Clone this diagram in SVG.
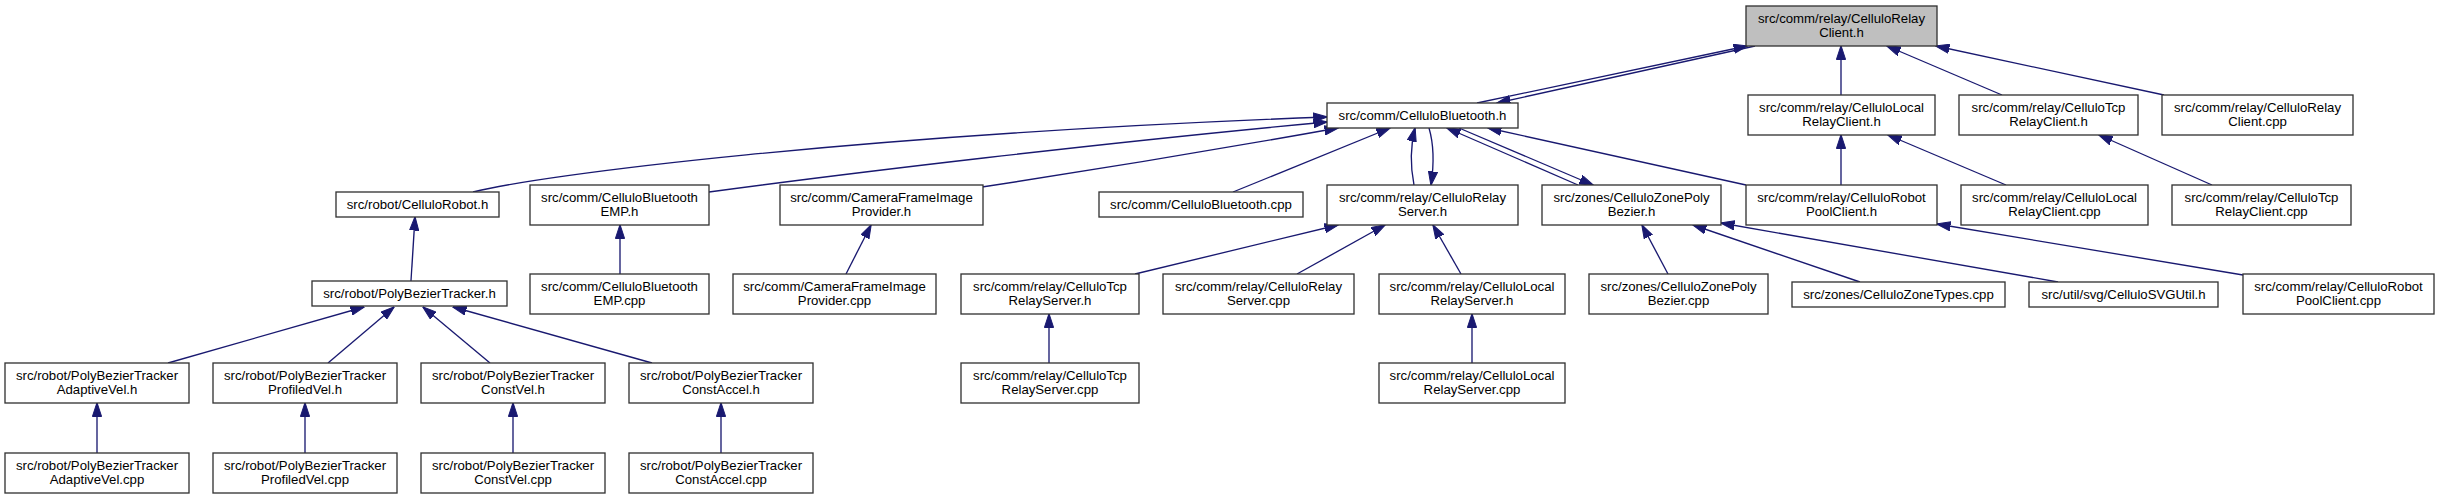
<svg xmlns="http://www.w3.org/2000/svg" width="2439" height="499" viewBox="0 0 2439 499">
<style>
.n rect{fill:#fff;stroke:#333;stroke-width:1.33}
.n.g rect{fill:#bfbfbf}
.n text{font-family:"Liberation Sans",Arial,Helvetica,sans-serif;font-size:13.2px;fill:#000;text-anchor:middle}
.e path{fill:none;stroke:#191970;stroke-width:1.33}
</style>
<defs>
<marker id="a" markerUnits="userSpaceOnUse" markerWidth="14" markerHeight="10" viewBox="0 0 14 10" refX="13.5" refY="5" orient="auto">
<path d="M0,0.4 L14,5 L0,9.6 z" fill="#191970" stroke="#191970" stroke-width="1"/>
</marker>
</defs>
<rect width="2439" height="499" fill="#fff"/>
<g class="e" id="edges" marker-end="url(#a)">
<path d="M1841,95 L1841,46"/>
<path d="M2002,95 L1887,46"/>
<path d="M2164,95 L1936,46"/>
<path d="M1477,103 L1747,46"/>
<path d="M1755,46 L1497,103"/>
<path d="M1841,185 L1841,135"/>
<path d="M2006,185 L1888,135"/>
<path d="M2212,185 L2099,135"/>
<path d="M473,192 C540,175 850,135 1327,117"/>
<path d="M709,192 C850,173 1100,143 1327,122"/>
<path d="M982,187 Q1160,160 1338,128"/>
<path d="M1233,192 L1390,128"/>
<path d="M1414,185 C1410,165 1410,148 1415,128"/>
<path d="M1429,128 C1434,145 1434,165 1431,185"/>
<path d="M1578,185 L1447,128"/>
<path d="M1459,128 L1593,185"/>
<path d="M1746,185 L1488,128"/>
<path d="M411,281 L415,217"/>
<path d="M620,274 L620,225"/>
<path d="M846,274 L871,225"/>
<path d="M1135,274 L1338,225"/>
<path d="M1297,274 L1385,225"/>
<path d="M1461,274 L1433,225"/>
<path d="M1668,274 L1642,225"/>
<path d="M1860,282 L1693,225"/>
<path d="M2058,282 L1721,223"/>
<path d="M2243,275 L1937,224"/>
<path d="M168,363 L364,307"/>
<path d="M328,363 L394,307"/>
<path d="M490,363 L423,307"/>
<path d="M652,363 L453,307"/>
<path d="M97,453 L97,403"/>
<path d="M305,453 L305,403"/>
<path d="M513,453 L513,403"/>
<path d="M721,453 L721,403"/>
<path d="M1049,363 L1049,314"/>
<path d="M1472,363 L1472,314"/>
</g>
<g class="n g" id="n1"><rect x="1746" y="6" width="191" height="40"/><text x="1841.5" y="22.5">src/comm/relay/CelluloRelay</text><text x="1841.5" y="37">Client.h</text></g>
<g class="n" id="n2"><rect x="1327" y="103" width="191" height="25"/><text x="1422.5" y="120">src/comm/CelluloBluetooth.h</text></g>
<g class="n" id="n3"><rect x="1748" y="95" width="187" height="40"/><text x="1841.5" y="111.5">src/comm/relay/CelluloLocal</text><text x="1841.5" y="126">RelayClient.h</text></g>
<g class="n" id="n4"><rect x="1959" y="95" width="179" height="40"/><text x="2048.5" y="111.5">src/comm/relay/CelluloTcp</text><text x="2048.5" y="126">RelayClient.h</text></g>
<g class="n" id="n5"><rect x="2162" y="95" width="191" height="40"/><text x="2257.5" y="111.5">src/comm/relay/CelluloRelay</text><text x="2257.5" y="126">Client.cpp</text></g>
<g class="n" id="n6"><rect x="336" y="192" width="163" height="25"/><text x="417.5" y="209">src/robot/CelluloRobot.h</text></g>
<g class="n" id="n7"><rect x="530" y="185" width="179" height="40"/><text x="619.5" y="201.5">src/comm/CelluloBluetooth</text><text x="619.5" y="216">EMP.h</text></g>
<g class="n" id="n8"><rect x="780" y="185" width="203" height="40"/><text x="881.5" y="201.5">src/comm/CameraFrameImage</text><text x="881.5" y="216">Provider.h</text></g>
<g class="n" id="n9"><rect x="1099" y="192" width="204" height="25"/><text x="1201" y="209">src/comm/CelluloBluetooth.cpp</text></g>
<g class="n" id="n10"><rect x="1327" y="185" width="191" height="40"/><text x="1422.5" y="201.5">src/comm/relay/CelluloRelay</text><text x="1422.5" y="216">Server.h</text></g>
<g class="n" id="n11"><rect x="1542" y="185" width="179" height="40"/><text x="1631.5" y="201.5">src/zones/CelluloZonePoly</text><text x="1631.5" y="216">Bezier.h</text></g>
<g class="n" id="n12"><rect x="1746" y="185" width="191" height="40"/><text x="1841.5" y="201.5">src/comm/relay/CelluloRobot</text><text x="1841.5" y="216">PoolClient.h</text></g>
<g class="n" id="n13"><rect x="1961" y="185" width="187" height="40"/><text x="2054.5" y="201.5">src/comm/relay/CelluloLocal</text><text x="2054.5" y="216">RelayClient.cpp</text></g>
<g class="n" id="n14"><rect x="2172" y="185" width="179" height="40"/><text x="2261.5" y="201.5">src/comm/relay/CelluloTcp</text><text x="2261.5" y="216">RelayClient.cpp</text></g>
<g class="n" id="n15"><rect x="312" y="281" width="195" height="25"/><text x="409.5" y="298">src/robot/PolyBezierTracker.h</text></g>
<g class="n" id="n16"><rect x="530" y="274" width="179" height="40"/><text x="619.5" y="290.5">src/comm/CelluloBluetooth</text><text x="619.5" y="305">EMP.cpp</text></g>
<g class="n" id="n17"><rect x="733" y="274" width="203" height="40"/><text x="834.5" y="290.5">src/comm/CameraFrameImage</text><text x="834.5" y="305">Provider.cpp</text></g>
<g class="n" id="n18"><rect x="961" y="274" width="178" height="40"/><text x="1050" y="290.5">src/comm/relay/CelluloTcp</text><text x="1050" y="305">RelayServer.h</text></g>
<g class="n" id="n19"><rect x="1163" y="274" width="191" height="40"/><text x="1258.5" y="290.5">src/comm/relay/CelluloRelay</text><text x="1258.5" y="305">Server.cpp</text></g>
<g class="n" id="n20"><rect x="1379" y="274" width="186" height="40"/><text x="1472" y="290.5">src/comm/relay/CelluloLocal</text><text x="1472" y="305">RelayServer.h</text></g>
<g class="n" id="n21"><rect x="1589" y="274" width="179" height="40"/><text x="1678.5" y="290.5">src/zones/CelluloZonePoly</text><text x="1678.5" y="305">Bezier.cpp</text></g>
<g class="n" id="n22"><rect x="1792" y="282" width="213" height="25"/><text x="1898.5" y="299">src/zones/CelluloZoneTypes.cpp</text></g>
<g class="n" id="n23"><rect x="2029" y="282" width="189" height="25"/><text x="2123.5" y="299">src/util/svg/CelluloSVGUtil.h</text></g>
<g class="n" id="n24"><rect x="2243" y="274" width="191" height="40"/><text x="2338.5" y="290.5">src/comm/relay/CelluloRobot</text><text x="2338.5" y="305">PoolClient.cpp</text></g>
<g class="n" id="n25"><rect x="5" y="363" width="184" height="40"/><text x="97" y="379.5">src/robot/PolyBezierTracker</text><text x="97" y="394">AdaptiveVel.h</text></g>
<g class="n" id="n26"><rect x="213" y="363" width="184" height="40"/><text x="305" y="379.5">src/robot/PolyBezierTracker</text><text x="305" y="394">ProfiledVel.h</text></g>
<g class="n" id="n27"><rect x="421" y="363" width="184" height="40"/><text x="513" y="379.5">src/robot/PolyBezierTracker</text><text x="513" y="394">ConstVel.h</text></g>
<g class="n" id="n28"><rect x="629" y="363" width="184" height="40"/><text x="721" y="379.5">src/robot/PolyBezierTracker</text><text x="721" y="394">ConstAccel.h</text></g>
<g class="n" id="n29"><rect x="961" y="363" width="178" height="40"/><text x="1050" y="379.5">src/comm/relay/CelluloTcp</text><text x="1050" y="394">RelayServer.cpp</text></g>
<g class="n" id="n30"><rect x="1379" y="363" width="186" height="40"/><text x="1472" y="379.5">src/comm/relay/CelluloLocal</text><text x="1472" y="394">RelayServer.cpp</text></g>
<g class="n" id="n31"><rect x="5" y="453" width="184" height="40"/><text x="97" y="469.5">src/robot/PolyBezierTracker</text><text x="97" y="484">AdaptiveVel.cpp</text></g>
<g class="n" id="n32"><rect x="213" y="453" width="184" height="40"/><text x="305" y="469.5">src/robot/PolyBezierTracker</text><text x="305" y="484">ProfiledVel.cpp</text></g>
<g class="n" id="n33"><rect x="421" y="453" width="184" height="40"/><text x="513" y="469.5">src/robot/PolyBezierTracker</text><text x="513" y="484">ConstVel.cpp</text></g>
<g class="n" id="n34"><rect x="629" y="453" width="184" height="40"/><text x="721" y="469.5">src/robot/PolyBezierTracker</text><text x="721" y="484">ConstAccel.cpp</text></g>
</svg>
